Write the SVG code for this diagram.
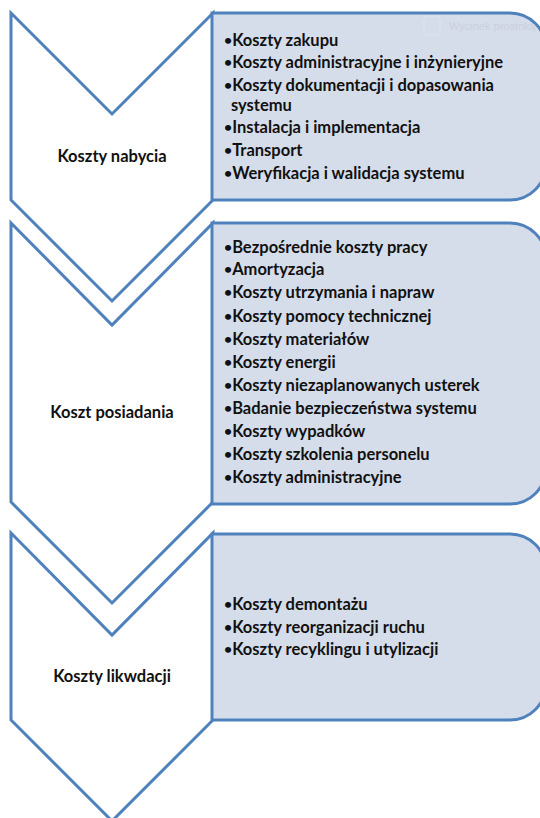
<svg xmlns="http://www.w3.org/2000/svg" width="540" height="818" viewBox="0 0 540 818">
<style>
.chev{fill:#ffffff;stroke:#4F81BD;stroke-width:3;stroke-linejoin:miter}
.box{fill:#D6DDEA;stroke:#4F81BD;stroke-width:3}
.lbl{font-family:"Lato","Liberation Sans",sans-serif;font-weight:bold;font-size:16.5px;fill:#111;text-anchor:middle}
.itm{font-family:"Lato","Liberation Sans",sans-serif;font-weight:bold;font-size:16.5px;fill:#111}
.b{font-size:14px;baseline-shift:1.5px}
.wm{font-family:"Liberation Sans",sans-serif;font-size:11px;fill:#C9D0DC}
</style>
<rect width="540" height="818" fill="#ffffff"/>
<g id="chevron1">
<path class="chev" d="M11,13 L112,114 L213,13 L213,200 L112,301 L11,200 Z"/>
<text class="lbl" x="112" y="162">Koszty nabycia</text>
</g>
<g id="chevron2">
<path class="chev" d="M11,223 L112,325 L213,223 L213,502 L112,603 L11,502 Z"/>
<text class="lbl" x="112" y="418">Koszt posiadania</text>
</g>
<g id="chevron3">
<path class="chev" d="M11,533 L112,635 L213,533 L213,720 L112,821 L11,720 Z"/>
<text class="lbl" x="112" y="682">Koszty likwdacji</text>
</g>
<g id="box1">
<path class="box" d="M212,13 H510 A36,36 0 0 1 546,49 V164 A36,36 0 0 1 510,200 H212 Z"/>
<rect x="424" y="16" width="16" height="19" rx="2" fill="none" stroke="#DDE2EB" stroke-width="1"/>
<text class="wm" x="449" y="30">Wycinek prostoką</text>
<text class="itm" x="224" y="46"><tspan class="b">•</tspan>Koszty zakupu</text>
<text class="itm" x="224" y="68"><tspan class="b">•</tspan>Koszty administracyjne i inżynieryjne</text>
<text class="itm" x="224" y="91"><tspan class="b">•</tspan>Koszty dokumentacji i dopasowania</text>
<text class="itm" x="231" y="111">systemu</text>
<text class="itm" x="224" y="133"><tspan class="b">•</tspan>Instalacja i implementacja</text>
<text class="itm" x="224" y="156"><tspan class="b">•</tspan>Transport</text>
<text class="itm" x="224" y="179"><tspan class="b">•</tspan>Weryfikacja i walidacja systemu</text>
</g>
<g id="box2">
<path class="box" d="M212,223 H510 A36,36 0 0 1 546,259 V468 A36,36 0 0 1 510,504 H212 Z"/>
<text class="itm" x="224" y="253"><tspan class="b">•</tspan>Bezpośrednie koszty pracy</text>
<text class="itm" x="224" y="275"><tspan class="b">•</tspan>Amortyzacja</text>
<text class="itm" x="224" y="298"><tspan class="b">•</tspan>Koszty utrzymania i napraw</text>
<text class="itm" x="224" y="322"><tspan class="b">•</tspan>Koszty pomocy technicznej</text>
<text class="itm" x="224" y="345"><tspan class="b">•</tspan>Koszty materiałów</text>
<text class="itm" x="224" y="368"><tspan class="b">•</tspan>Koszty energii</text>
<text class="itm" x="224" y="391"><tspan class="b">•</tspan>Koszty niezaplanowanych usterek</text>
<text class="itm" x="224" y="414"><tspan class="b">•</tspan>Badanie bezpieczeństwa systemu</text>
<text class="itm" x="224" y="437"><tspan class="b">•</tspan>Koszty wypadków</text>
<text class="itm" x="224" y="460"><tspan class="b">•</tspan>Koszty szkolenia personelu</text>
<text class="itm" x="224" y="483"><tspan class="b">•</tspan>Koszty administracyjne</text>
</g>
<g id="box3">
<path class="box" d="M212,534 H510 A36,36 0 0 1 546,570 V684 A36,36 0 0 1 510,720 H212 Z"/>
<text class="itm" x="224" y="610"><tspan class="b">•</tspan>Koszty demontażu</text>
<text class="itm" x="224" y="633"><tspan class="b">•</tspan>Koszty reorganizacji ruchu</text>
<text class="itm" x="224" y="655"><tspan class="b">•</tspan>Koszty recyklingu i utylizacji</text>
</g>
<g id="connectors"></g>
</svg>
